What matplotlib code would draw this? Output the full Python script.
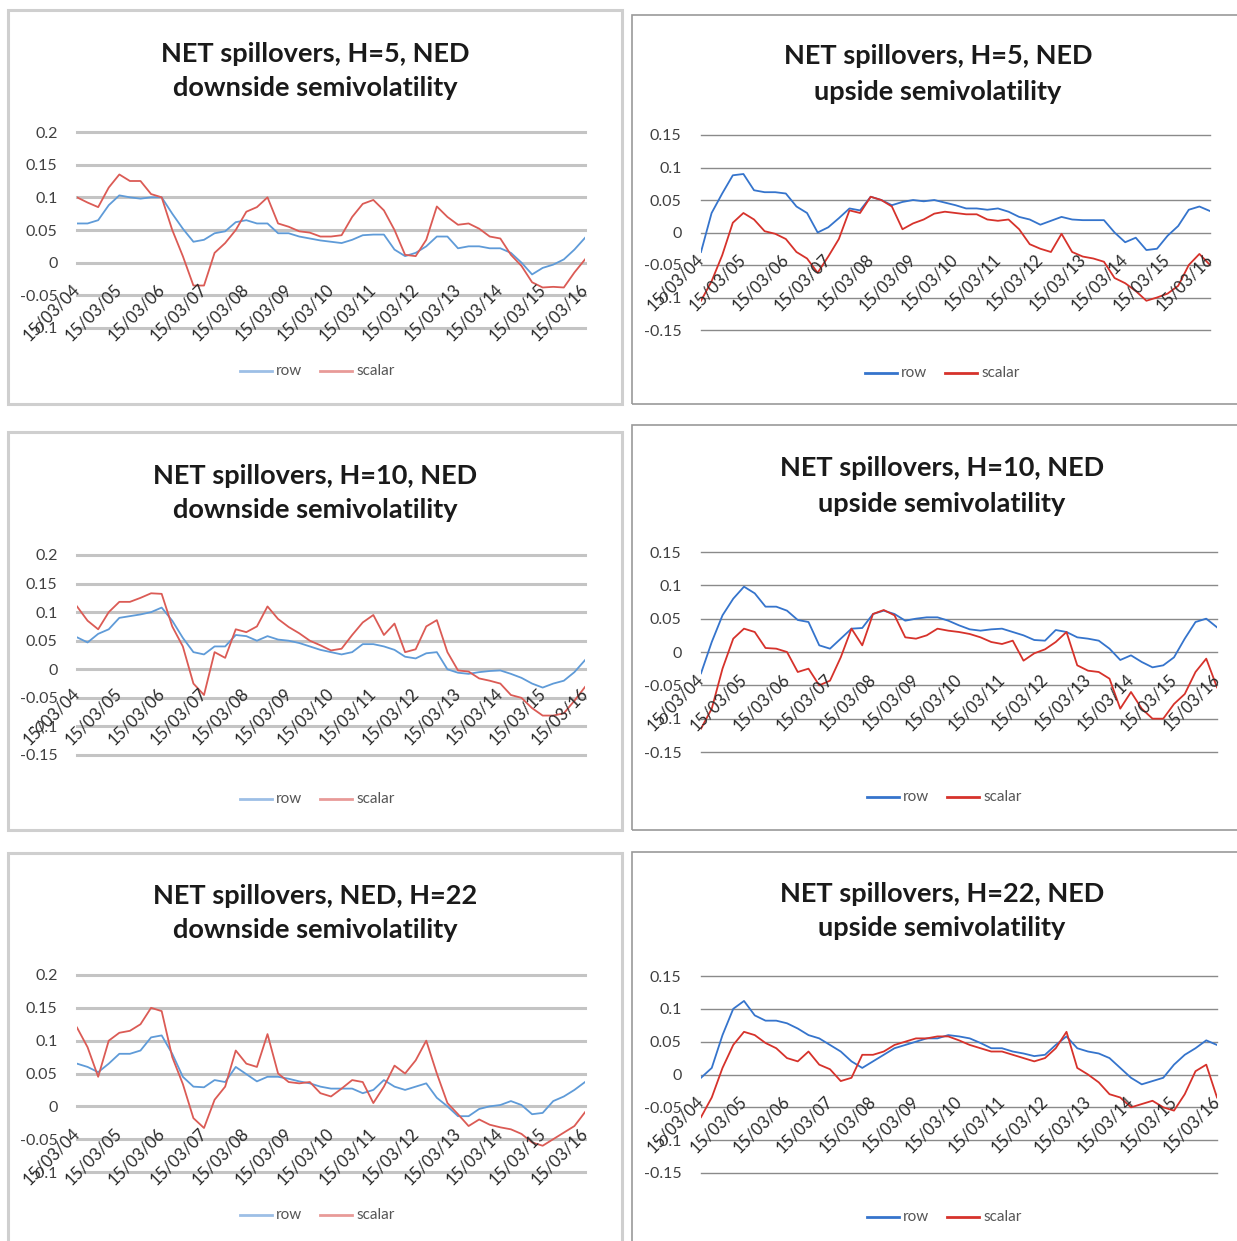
import numpy as np
import matplotlib.pyplot as plt
from matplotlib.patches import Rectangle
from matplotlib.lines import Line2D

# ==============================
# Data: NET spillovers for NED, quarterly readings, 2004-2016
# ==============================

quarters = np.arange(0, 12.01, 0.25)   # years since 15/03/04
date_labels = ['15/03/04', '15/03/05', '15/03/06', '15/03/07', '15/03/08',
               '15/03/09', '15/03/10', '15/03/11', '15/03/12', '15/03/13',
               '15/03/14', '15/03/15', '15/03/16']

# H=5 downside
h5_down_row = [0.060, 0.060, 0.065, 0.088, 0.103, 0.100, 0.098, 0.100, 0.100, 0.075,
               0.052, 0.032, 0.035, 0.045, 0.048, 0.062, 0.065, 0.060, 0.060, 0.045,
               0.045, 0.040, 0.037, 0.034, 0.032, 0.030, 0.035, 0.042, 0.043, 0.043,
               0.020, 0.010, 0.015, 0.025, 0.040, 0.040, 0.022, 0.025, 0.025, 0.022,
               0.022, 0.015, 0.000, -0.018, -0.008, -0.003, 0.005, 0.020, 0.038]
h5_down_scalar = [0.100, 0.092, 0.085, 0.115, 0.135, 0.125, 0.125, 0.105, 0.100, 0.050,
                  0.010, -0.035, -0.035, 0.015, 0.030, 0.050, 0.078, 0.085, 0.100, 0.060,
                  0.055, 0.048, 0.046, 0.040, 0.040, 0.042, 0.070, 0.090, 0.096, 0.080,
                  0.050, 0.012, 0.010, 0.035, 0.086, 0.070, 0.058, 0.060, 0.052, 0.040,
                  0.037, 0.012, -0.005, -0.030, -0.038, -0.037, -0.038, -0.015, 0.005]

# H=5 upside
h5_up_row = [-0.030, 0.030, 0.060, 0.088, 0.090, 0.065, 0.062, 0.062, 0.060, 0.040,
             0.030, 0.000, 0.008, 0.022, 0.037, 0.034, 0.055, 0.050, 0.042, 0.047,
             0.050, 0.048, 0.050, 0.046, 0.042, 0.037, 0.037, 0.035, 0.037, 0.032,
             0.024, 0.020, 0.012, 0.018, 0.024, 0.020, 0.019, 0.019, 0.019, 0.000,
             -0.015, -0.008, -0.027, -0.025, -0.005, 0.010, 0.035, 0.040, 0.033]
h5_up_scalar = [-0.105, -0.075, -0.035, 0.015, 0.030, 0.020, 0.002, -0.002, -0.010, -0.030,
                -0.040, -0.062, -0.037, -0.010, 0.034, 0.030, 0.055, 0.050, 0.040, 0.005,
                0.014, 0.020, 0.029, 0.032, 0.030, 0.028, 0.028, 0.020, 0.018, 0.020,
                0.005, -0.018, -0.025, -0.030, -0.002, -0.030, -0.037, -0.040, -0.045, -0.070,
                -0.078, -0.090, -0.105, -0.100, -0.094, -0.082, -0.050, -0.033, -0.050]

# H=10 downside
h10_down_row = [0.056, 0.047, 0.062, 0.070, 0.090, 0.093, 0.096, 0.100, 0.108, 0.085,
                0.055, 0.030, 0.026, 0.040, 0.040, 0.060, 0.058, 0.050, 0.058, 0.052,
                0.050, 0.046, 0.040, 0.034, 0.030, 0.026, 0.030, 0.044, 0.044, 0.040,
                0.034, 0.022, 0.019, 0.028, 0.030, 0.000, -0.006, -0.008, -0.005, -0.003,
                -0.002, -0.008, -0.015, -0.025, -0.032, -0.025, -0.020, -0.005, 0.016]
h10_down_scalar = [0.110, 0.085, 0.070, 0.100, 0.118, 0.118, 0.125, 0.133, 0.132, 0.075,
                   0.040, -0.025, -0.045, 0.030, 0.020, 0.070, 0.065, 0.075, 0.110, 0.088,
                   0.074, 0.063, 0.050, 0.042, 0.033, 0.036, 0.060, 0.082, 0.095, 0.060,
                   0.080, 0.030, 0.035, 0.075, 0.086, 0.030, -0.002, -0.004, -0.016, -0.020,
                   -0.025, -0.045, -0.050, -0.068, -0.081, -0.081, -0.077, -0.055, -0.031]

# H=10 upside
h10_up_row = [-0.032, 0.015, 0.055, 0.080, 0.098, 0.088, 0.068, 0.068, 0.062, 0.048,
              0.045, 0.010, 0.005, 0.020, 0.035, 0.036, 0.057, 0.062, 0.057, 0.047,
              0.050, 0.052, 0.052, 0.047, 0.040, 0.034, 0.032, 0.034, 0.035, 0.030,
              0.025, 0.018, 0.017, 0.033, 0.030, 0.022, 0.020, 0.017, 0.005, -0.012,
              -0.005, -0.015, -0.023, -0.020, -0.008, 0.020, 0.045, 0.050, 0.037]
h10_up_scalar = [-0.115, -0.085, -0.025, 0.020, 0.035, 0.030, 0.006, 0.005, 0.000, -0.030,
                 -0.025, -0.050, -0.043, -0.008, 0.035, 0.010, 0.057, 0.063, 0.055, 0.022,
                 0.020, 0.025, 0.035, 0.032, 0.030, 0.027, 0.022, 0.015, 0.012, 0.017,
                 -0.013, -0.002, 0.004, 0.015, 0.030, -0.020, -0.028, -0.030, -0.040, -0.085,
                 -0.060, -0.085, -0.100, -0.100, -0.078, -0.063, -0.030, -0.010, -0.053]

# H=22 downside
h22_down_row = [0.065, 0.060, 0.052, 0.065, 0.080, 0.080, 0.085, 0.105, 0.108, 0.080,
                0.045, 0.030, 0.029, 0.040, 0.037, 0.060, 0.049, 0.038, 0.045, 0.045,
                0.042, 0.038, 0.035, 0.030, 0.027, 0.027, 0.027, 0.020, 0.025, 0.040,
                0.030, 0.025, 0.030, 0.035, 0.013, 0.000, -0.015, -0.015, -0.004, 0.000,
                0.002, 0.008, 0.002, -0.012, -0.010, 0.008, 0.015, 0.025, 0.037]
h22_down_scalar = [0.120, 0.090, 0.045, 0.100, 0.112, 0.115, 0.125, 0.150, 0.145, 0.075,
                   0.034, -0.018, -0.033, 0.010, 0.030, 0.085, 0.065, 0.060, 0.110, 0.050,
                   0.037, 0.035, 0.037, 0.020, 0.015, 0.027, 0.040, 0.037, 0.005, 0.030,
                   0.062, 0.050, 0.070, 0.100, 0.050, 0.005, -0.012, -0.030, -0.020, -0.028,
                   -0.032, -0.035, -0.042, -0.055, -0.060, -0.050, -0.040, -0.030, -0.009]

# H=22 upside
h22_up_row = [-0.005, 0.010, 0.060, 0.100, 0.112, 0.090, 0.082, 0.082, 0.078, 0.070,
              0.060, 0.055, 0.045, 0.035, 0.020, 0.010, 0.020, 0.030, 0.040, 0.045,
              0.050, 0.055, 0.055, 0.060, 0.058, 0.055, 0.048, 0.040, 0.040, 0.035,
              0.032, 0.028, 0.030, 0.045, 0.058, 0.040, 0.035, 0.032, 0.025, 0.010,
              -0.005, -0.015, -0.010, -0.005, 0.015, 0.030, 0.040, 0.052, 0.045]
h22_up_scalar = [-0.065, -0.035, 0.010, 0.045, 0.065, 0.060, 0.048, 0.040, 0.025, 0.020,
                 0.035, 0.015, 0.008, -0.010, -0.005, 0.030, 0.030, 0.035, 0.045, 0.050,
                 0.055, 0.055, 0.058, 0.058, 0.052, 0.045, 0.040, 0.035, 0.035, 0.030,
                 0.025, 0.020, 0.025, 0.040, 0.065, 0.010, 0.000, -0.012, -0.030, -0.035,
                 -0.050, -0.045, -0.040, -0.050, -0.055, -0.030, 0.005, 0.015, -0.035]

# ==============================
# Layout (pixels on a 1237x1241 canvas)
# ==============================

W, H = 1237, 1241
FONT = 'Lato'

LIGHT = dict(grid='#c4c4c4', grid_lw=2.2, frame='#cfcfcf', frame_lw=2.2,
             row='#5f9bd8', scalar='#db5b55', legend_row='#9dbfe6', legend_scalar='#e89a98')
DARK = dict(grid='#8a8a8a', grid_lw=1.0, frame='#9a9a9a', frame_lw=1.2,
            row='#3574cc', scalar='#d6322b', legend_row='#3574cc', legend_scalar='#d6322b')

panels = [
    dict(title='NET spillovers, H=5, NED\ndownside semivolatility', row=h5_down_row, scalar=h5_down_scalar,
         frame=(8, 10, 622, 404), axes=(77, 132, 585, 328), ylim=(-0.1, 0.2),
         title_xy=(315, 71), legend_y=371, legend_x=240, style=LIGHT),
    dict(title='NET spillovers, H=5, NED\nupside semivolatility', row=h5_up_row, scalar=h5_up_scalar,
         frame=(632, 15, 1245, 404), axes=(701, 135, 1210, 330), ylim=(-0.15, 0.15),
         title_xy=(938, 74), legend_y=373, legend_x=865, style=DARK),
    dict(title='NET spillovers, H=10, NED\ndownside semivolatility', row=h10_down_row, scalar=h10_down_scalar,
         frame=(8, 432, 622, 830), axes=(77, 555, 585, 755), ylim=(-0.15, 0.2),
         title_xy=(315, 493), legend_y=799, legend_x=240, style=LIGHT),
    dict(title='NET spillovers, H=10, NED\nupside semivolatility', row=h10_up_row, scalar=h10_up_scalar,
         frame=(632, 425, 1245, 830), axes=(701, 552, 1217, 752), ylim=(-0.15, 0.15),
         title_xy=(942, 486), legend_y=797, legend_x=867, style=DARK),
    dict(title='NET spillovers, NED, H=22\ndownside semivolatility', row=h22_down_row, scalar=h22_down_scalar,
         frame=(8, 853, 622, 1250), axes=(77, 975, 585, 1172), ylim=(-0.1, 0.2),
         title_xy=(315, 913), legend_y=1215, legend_x=240, style=LIGHT),
    dict(title='NET spillovers, H=22, NED\nupside semivolatility', row=h22_up_row, scalar=h22_up_scalar,
         frame=(632, 852, 1245, 1250), axes=(701, 976, 1217, 1173), ylim=(-0.15, 0.15),
         title_xy=(942, 911), legend_y=1217, legend_x=867, style=DARK),
]


def fx(x):
    return x / W


def fy(y):
    return 1 - y / H


def tick_text(v):
    s = f'{v:.2f}'.rstrip('0').rstrip('.')
    return '0' if s in ('-0', '0') else s


fig = plt.figure(figsize=(W / 100, H / 100), dpi=100)
fig.patch.set_facecolor('white')

for p in panels:
    st = p['style']

    # chart frame
    x0, y0, x1, y1 = p['frame']
    fig.add_artist(Rectangle((fx(x0), fy(y1)), fx(x1 - x0), (y1 - y0) / H, transform=fig.transFigure,
                             facecolor='none', edgecolor=st['frame'], lw=st['frame_lw'], clip_on=False))

    # plot area
    a0, b0, a1, b1 = p['axes']
    ax = fig.add_axes([fx(a0), fy(b1), fx(a1 - a0), (b1 - b0) / H])
    ax.set_xlim(0, 12)
    ymin, ymax = p['ylim']
    ax.set_ylim(ymin, ymax)
    for s in ax.spines.values():
        s.set_visible(False)
    ax.set_xticks([])
    yt = np.round(np.arange(ymin, ymax + 0.001, 0.05), 2)
    ax.set_yticks(yt)
    ax.set_yticklabels([tick_text(v) for v in yt], fontfamily=FONT, fontsize=11.5, color='#404040')
    ax.tick_params(axis='y', length=0, pad=14)
    for v in yt:
        ax.axhline(v, color=st['grid'], lw=st['grid_lw'], zorder=1, clip_on=False)

    ax.plot(quarters, p['row'], color=st['row'], lw=1.3, zorder=3)
    ax.plot(quarters, p['scalar'], color=st['scalar'], lw=1.3, zorder=3)

    # category labels, rotated like the spreadsheet axis
    for i, lab in enumerate(date_labels):
        ax.text(i, -0.037, lab, rotation=45, rotation_mode='anchor', ha='right', va='center',
                fontfamily=FONT, fontsize=12, color='#2a2a2a', zorder=4, clip_on=False)

    # title
    tx, ty = p['title_xy']
    fig.text(fx(tx), fy(ty), p['title'], ha='center', va='center', fontfamily=FONT,
             fontweight='bold', fontsize=19.5, color='#1a1a1a', linespacing=1.55)

    # legend
    lx, ly = p['legend_x'], p['legend_y']
    fig.add_artist(Line2D([fx(lx), fx(lx + 32)], [fy(ly), fy(ly)], color=st['legend_row'], lw=2.0))
    fig.text(fx(lx + 36), fy(ly), 'row', ha='left', va='center', fontfamily=FONT, fontsize=11,
             color='#555555')
    fig.add_artist(Line2D([fx(lx + 80), fx(lx + 112)], [fy(ly), fy(ly)], color=st['legend_scalar'], lw=2.0))
    fig.text(fx(lx + 116), fy(ly), 'scalar', ha='left', va='center', fontfamily=FONT, fontsize=11,
             color='#555555')

fig.savefig('out.png', dpi=100, facecolor='white')
